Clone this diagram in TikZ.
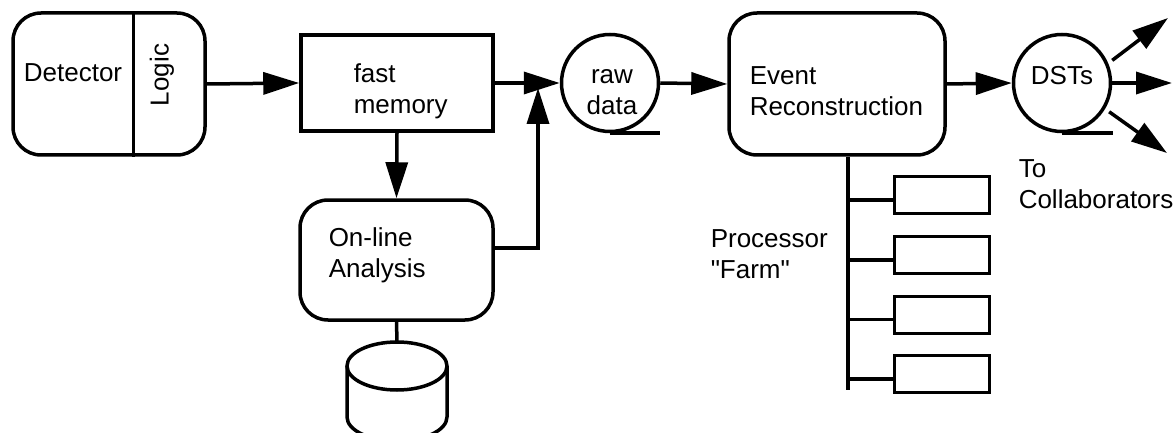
\documentclass[tikz,border=0pt]{standalone}
\usepackage{fontspec}
\setmainfont{Liberation Sans}
\usetikzlibrary{arrows.meta,calc}
\newcommand\straightdq{\XeTeXglyph\XeTeXcharglyph"22\relax}
\begin{document}
\begin{tikzpicture}[x=1pt,y=-1pt,
  line width=3.5pt,
  every node/.style={font=\fontsize{26}{31}\selectfont, inner sep=0pt},
  rbox/.style={draw, rounded corners=28pt},
  sbox/.style={draw},
  tape/.style={draw, circle, minimum size=97pt},
  farmbox/.style={draw, line width=3pt, minimum width=95pt, minimum height=37pt},
  txt/.style={align=left, anchor=west},
  arr/.style={-{Triangle[length=36pt,width=22pt]}}
]
\useasboundingbox (0,0) rectangle (1173,433);
\clip (0,0) rectangle (1173,433);

% main nodes
\node[rbox, minimum width=192pt, minimum height=142pt] (det) at (109,84) {};
\node (dettxt) at (73,73) {Detector};
\node[rotate=90] (logic) at (162,75) {Logic};
\draw ($(det.north west)!0.625!(det.north east)$) -- ($(det.south west)!0.625!(det.south east)$);

\node[sbox, minimum width=192pt, minimum height=96pt] (fm) at (397,83) {};
\node[txt] (fmtxt) at (352,91) {fast\\memory};

\node[rbox, minimum width=193pt, minimum height=120pt] (onl) at (396.5,260) {};
\node[txt] (onltxt) at (327,255) {On-line\\Analysis};

\node[tape] (raw) at (610,83) {};
\node[align=center] (rawtxt) at (612,92) {raw\\data};
\draw (raw.south) -- ++(50,0);

\node[rbox, minimum width=216pt, minimum height=142pt] (ev) at (837,84) {};
\node[txt] (evtxt) at (748,91) {Event\\Reconstruction};

\node[tape] (dst) at (1062,83) {};
\node (dsttxt) at (1062,76) {DSTs};
\draw (dst.south) -- ++(51,0);

\node[txt] (collab) at (1017,184) {To\\Collaborators};
\node[txt] (farmtxt) at (709,254) {Processor\\\straightdq Farm\straightdq};

% farm boxes
\node[farmbox] (f1) at (941.5,195) {};
\node[farmbox] (f2) at (941.5,255) {};
\node[farmbox] (f3) at (941.5,314.5) {};
\node[farmbox] (f4) at (941.5,374) {};

% coordinates
\coordinate (merge) at (538,88);
\coordinate (bus) at (848,390);
\coordinate (cyltop) at (397,342);
\coordinate (out1) at (1168,18);
\coordinate (out2) at (1172,83);
\coordinate (out3) at (1167,153);

% connectors
\draw[arr] (det.east) -- (fm.west);
\draw[arr] (fm.east) -- (raw.west);
\draw[arr] (fm.south) -- (onl.north);
\draw[arr] ($(onl.east)+(0,-12)$) -| (merge);
\draw[arr] (raw.east) -- (ev.west);
\draw[arr] (ev.east) -- (dst.west);
\draw[arr, shorten <=5pt] (dst.23) -- (out1);
\draw[arr] (dst.east) -- (out2);
\draw[arr, shorten <=5pt] (dst.-31) -- (out3);

% processor farm bus
\draw (ev.south -| bus) -- (bus);
\foreach \f in {f1,f2,f3,f4} {
  \draw ($(bus |- \f.west)+(0,5)$) -- ($(\f.west)+(0,5)$);
}

% disk cylinder
\draw (onl.south) -- (cyltop);
\draw (397,366) ellipse [x radius=50pt, y radius=24pt];
\draw (347,366) -- (347,417) arc[start angle=180, end angle=360, x radius=50pt, y radius=24pt] -- (447,366);
\end{tikzpicture}
\end{document}
